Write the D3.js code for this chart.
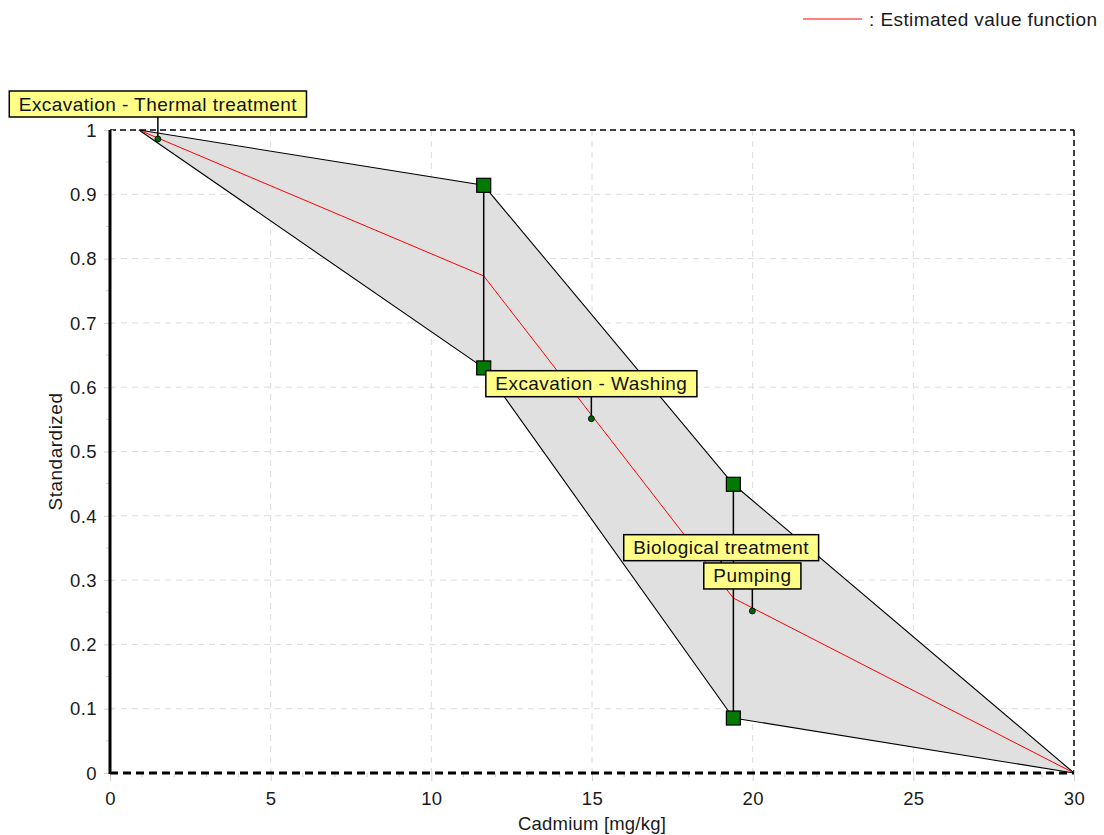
<!DOCTYPE html>
<html>
<head>
<meta charset="utf-8">
<script src="https://cdn.jsdelivr.net/npm/d3@7"></script>
<style>
  html, body { margin: 0; padding: 0; background: #ffffff; }
  svg { display: block; font-family: "Liberation Sans", Arial, sans-serif; }
</style>
</head>
<body>
<svg id="chart" width="1104" height="835"></svg>
<script>
// Value function band for cadmium concentration
const upperX = [0.9, 11.63, 19.4, 30];
const upperY = [1, 0.914, 0.449, 0];
const lowerX = [0.9, 11.63, 19.4, 30];
const lowerY = [1, 0.630, 0.0855, 0];
const estimatedX = [0.9, 11.63, 19.4, 30];
const estimatedY = [1, 0.773, 0.272, 0];

// Interval bars with square end markers
const barX = [11.63, 19.4];
const barTop = [0.914, 0.449];
const barBottom = [0.630, 0.0855];

// Alternatives placed on the value function
const altNames = ["Excavation - Thermal treatment", "Excavation - Washing", "Biological treatment", "Pumping"];
const altX = [1.49, 14.98, 19.02, 19.99];
const altY = [0.986, 0.551, 0.296, 0.252];

const xTicks = [0, 5, 10, 15, 20, 25, 30];
const yTicks = [0, 0.1, 0.2, 0.3, 0.4, 0.5, 0.6, 0.7, 0.8, 0.9, 1];

const svg = d3.select("#chart");
const plotL = 110, plotR = 1074, plotT = 130, plotB = 773;
const textColor = "#1a1a1a";

const x = d3.scaleLinear().domain([0, 30]).range([plotL, plotR]);
const y = d3.scaleLinear().domain([0, 1]).range([plotB, plotT]);

// Grid
const grid = svg.append("g");
grid.selectAll(".gx").data(xTicks.slice(1, -1)).enter().append("line")
  .attr("x1", d => x(d)).attr("x2", d => x(d))
  .attr("y1", plotT).attr("y2", plotB)
  .attr("stroke", "#dcdcdc").attr("stroke-dasharray", "6,5");
grid.selectAll(".gy").data(yTicks.slice(1, -1)).enter().append("line")
  .attr("x1", plotL).attr("x2", plotR)
  .attr("y1", d => y(d)).attr("y2", d => y(d))
  .attr("stroke", "#dcdcdc").attr("stroke-dasharray", "6,5");

// Band
const pts = upperX.map((v, i) => [x(v), y(upperY[i])])
  .concat(lowerX.map((v, i) => [x(v), y(lowerY[i])]).reverse());
svg.append("path")
  .attr("d", d3.line()(pts) + "Z")
  .attr("fill", "#e0e0e0").attr("stroke", "none");
const edge = d3.line().x(d => x(d[0])).y(d => y(d[1]));
svg.append("path").attr("d", edge(upperX.map((v, i) => [v, upperY[i]])))
  .attr("fill", "none").attr("stroke", "#000").attr("stroke-width", 1.1);
svg.append("path").attr("d", edge(lowerX.map((v, i) => [v, lowerY[i]])))
  .attr("fill", "none").attr("stroke", "#000").attr("stroke-width", 1.1);
svg.append("path").attr("d", edge(estimatedX.map((v, i) => [v, estimatedY[i]])))
  .attr("fill", "none").attr("stroke", "#ff0000").attr("stroke-width", 1);

// Frame: dashed top and right, heavy left and bottom
svg.append("line").attr("x1", plotL).attr("x2", plotR).attr("y1", plotT).attr("y2", plotT)
  .attr("stroke", "#000").attr("stroke-width", 1.5).attr("stroke-dasharray", "6,4");
svg.append("line").attr("x1", plotR).attr("x2", plotR).attr("y1", plotT).attr("y2", plotB)
  .attr("stroke", "#000").attr("stroke-width", 1.5).attr("stroke-dasharray", "6,4");

// Axes
const xAxis = d3.axisBottom(x).tickValues(xTicks).tickSize(6).tickFormat(d3.format("d"));
const gx = svg.append("g").attr("transform", `translate(0,${plotB})`).call(xAxis);
gx.attr("font-size", null).attr("font-family", null);
gx.select(".domain").remove();
gx.selectAll(".tick line").attr("stroke", "#d0d0d0").attr("y1", -3).attr("y2", 8);
gx.selectAll(".tick text").attr("y", 32).attr("dy", null)
  .style("font-size", "18.5px").style("letter-spacing", "0.4px").attr("fill", textColor);
const yAxis = d3.axisLeft(y).tickValues(yTicks).tickSize(6)
  .tickFormat(d => d === 0 || d === 1 ? d3.format("d")(d) : d3.format(".1f")(d));
const gy = svg.append("g").attr("transform", `translate(${plotL},0)`).call(yAxis);
gy.attr("font-size", null).attr("font-family", null);
gy.select(".domain").remove();
gy.selectAll(".tick line").attr("stroke", "#d0d0d0").attr("x1", 3).attr("x2", -6);
gy.selectAll(".tick text").attr("x", -13).attr("dy", "0.34em")
  .style("font-size", "18.5px").style("letter-spacing", "0.4px").attr("fill", textColor);

// Minor ticks
const minorX = d3.range(1, 30).filter(v => v % 5 !== 0);
svg.append("g").selectAll("line").data(minorX).enter().append("line")
  .attr("x1", d => x(d)).attr("x2", d => x(d)).attr("y1", plotB).attr("y2", plotB + 4)
  .attr("stroke", "#d0d0d0");
const minorY = d3.range(1, 20).filter(v => v % 2 !== 0).map(v => v / 20);
svg.append("g").selectAll("line").data(minorY).enter().append("line")
  .attr("x1", plotL - 4).attr("x2", plotL).attr("y1", d => y(d)).attr("y2", d => y(d))
  .attr("stroke", "#d0d0d0");

svg.append("line").attr("x1", plotL).attr("x2", plotL).attr("y1", plotT).attr("y2", plotB + 1)
  .attr("stroke", "#000").attr("stroke-width", 3);
svg.append("line").attr("x1", plotL).attr("x2", plotR).attr("y1", plotB).attr("y2", plotB)
  .attr("stroke", "#000").attr("stroke-width", 3).attr("stroke-dasharray", "8,5");

// Vertical interval bars with squares
barX.forEach((bx, i) => {
  svg.append("line").attr("x1", x(bx)).attr("x2", x(bx))
    .attr("y1", y(barTop[i])).attr("y2", y(barBottom[i]))
    .attr("stroke", "#000").attr("stroke-width", 1.5);
  [barTop[i], barBottom[i]].forEach(v => {
    svg.append("rect").attr("x", x(bx) - 7).attr("y", y(v) - 7)
      .attr("width", 14).attr("height", 14)
      .attr("fill", "#007a00").attr("stroke", "#000").attr("stroke-width", 1.2);
  });
});

// Alternative markers with callout labels
const labels = svg.append("g");
altNames.forEach((name, i) => {
  const px = x(altX[i]), py = y(altY[i]);
  const g = labels.append("g");
  const boxBottom = py - 22;
  g.append("line").attr("x1", px).attr("x2", px).attr("y1", boxBottom).attr("y2", py)
    .attr("stroke", "#000").attr("stroke-width", 1.5);
  g.append("circle").attr("cx", px).attr("cy", py).attr("r", 3)
    .attr("fill", "#006400").attr("stroke", "#000").attr("stroke-width", 0.8);
  const rect = g.append("rect");
  const t = g.append("text").text(name)
    .style("font-size", "19px").style("letter-spacing", "0.45px").attr("fill", "#111")
    .attr("text-anchor", "middle").attr("x", px).attr("y", boxBottom - 6.5);
  const w = t.node().getComputedTextLength() + 19;
  rect.attr("x", px - w / 2).attr("y", boxBottom - 26).attr("width", w).attr("height", 26)
    .attr("fill", "#ffff88").attr("stroke", "#000").attr("stroke-width", 1.5);
});

// Legend
svg.append("line").attr("x1", 803).attr("x2", 862).attr("y1", 19).attr("y2", 19)
  .attr("stroke", "#ff0000").attr("stroke-width", 1);
svg.append("text").attr("x", 869).attr("y", 26)
  .style("font-size", "19px").style("letter-spacing", "0.42px").attr("fill", textColor)
  .text(": Estimated value function");

// Axis titles
svg.append("text").attr("x", (plotL + plotR) / 2).attr("y", 830).attr("text-anchor", "middle")
  .style("font-size", "18.5px").style("letter-spacing", "0.2px").attr("fill", textColor)
  .text("Cadmium [mg/kg]");
svg.append("text").attr("transform", `translate(62,${(plotT + plotB) / 2}) rotate(-90)`)
  .attr("text-anchor", "middle")
  .style("font-size", "19px").style("letter-spacing", "0.5px").attr("fill", textColor)
  .text("Standardized");
</script>
</body>
</html>
